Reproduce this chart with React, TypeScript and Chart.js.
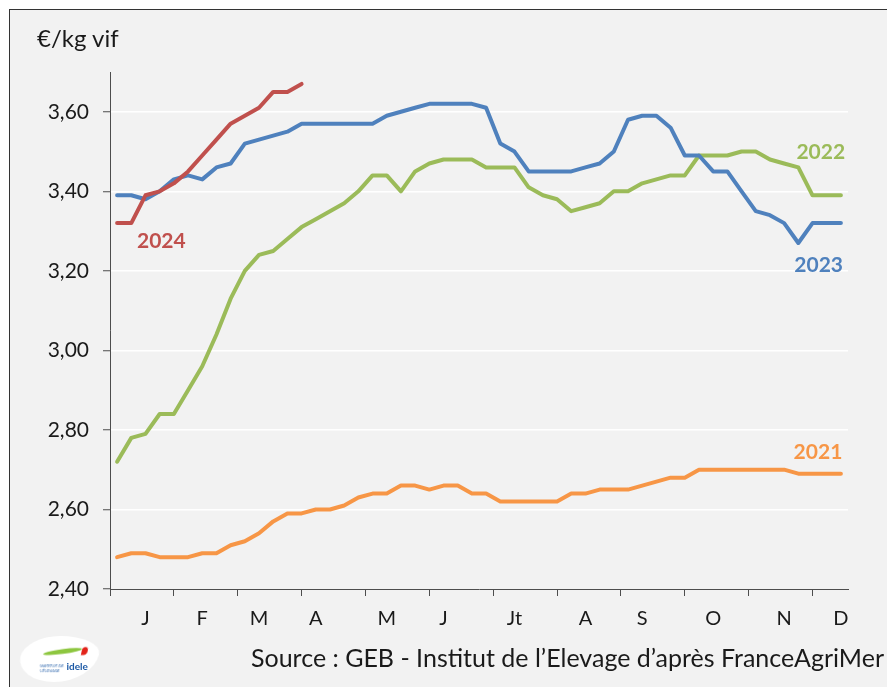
import React, { useEffect, useRef } from 'react';
import { Chart, registerables } from 'chart.js';

Chart.register(...registerables);

// ---- Data (weekly prices, €/kg vif) ----
const SERIES_NAMES = ['2024', '2023', '2022', '2021'];

const PRICES_2024 = [3.32, 3.32, 3.39, 3.40, 3.42, 3.45, 3.49, 3.53, 3.57, 3.59, 3.61, 3.65, 3.65, 3.67];

const PRICES_2023 = [
  3.39, 3.39, 3.38, 3.40, 3.43, 3.44, 3.43, 3.46, 3.47, 3.52, 3.53, 3.54, 3.55,
  3.57, 3.57, 3.57, 3.57, 3.57, 3.57, 3.59, 3.60, 3.61, 3.62, 3.62, 3.62, 3.62,
  3.61, 3.52, 3.50, 3.45, 3.45, 3.45, 3.45, 3.46, 3.47, 3.50, 3.58, 3.59, 3.59,
  3.56, 3.49, 3.49, 3.45, 3.45, 3.40, 3.35, 3.34, 3.32, 3.27, 3.32, 3.32, 3.32,
];

const PRICES_2022 = [
  2.72, 2.78, 2.79, 2.84, 2.84, 2.90, 2.96, 3.04, 3.13, 3.20, 3.24, 3.25, 3.28,
  3.31, 3.33, 3.35, 3.37, 3.40, 3.44, 3.44, 3.40, 3.45, 3.47, 3.48, 3.48, 3.48,
  3.46, 3.46, 3.46, 3.41, 3.39, 3.38, 3.35, 3.36, 3.37, 3.40, 3.40, 3.42, 3.43,
  3.44, 3.44, 3.49, 3.49, 3.49, 3.50, 3.50, 3.48, 3.47, 3.46, 3.39, 3.39, 3.39,
];

const PRICES_2021 = [
  2.48, 2.49, 2.49, 2.48, 2.48, 2.48, 2.49, 2.49, 2.51, 2.52, 2.54, 2.57, 2.59,
  2.59, 2.60, 2.60, 2.61, 2.63, 2.64, 2.64, 2.66, 2.66, 2.65, 2.66, 2.66, 2.64,
  2.64, 2.62, 2.62, 2.62, 2.62, 2.62, 2.64, 2.64, 2.65, 2.65, 2.65, 2.66, 2.67,
  2.68, 2.68, 2.70, 2.70, 2.70, 2.70, 2.70, 2.70, 2.70, 2.69, 2.69, 2.69, 2.69,
];

const MONTH_LABELS = ['J', 'F', 'M', 'A', 'M', 'J', 'Jt', 'A', 'S', 'O', 'N', 'D'];
const MONTH_LABEL_WEEKS = [2, 6, 10, 14, 19, 23, 28, 33, 37, 42, 47, 51];
const MONTH_TICK_MARKS = [-0.5, 4, 8.5, 13, 17.5, 22, 26.5, 31, 35.5, 40, 44.5, 49];
const Y_TICKS = [2.4, 2.6, 2.8, 3.0, 3.2, 3.4, 3.6];

// ---- Styles ----
const COLORS = ['#c0504d', '#4f81bd', '#9bbb59', '#f79646'];
const FONT = 'Lato, "Open Sans", sans-serif';
const AXIS_COLOR = '#4d4d4d';
const TEXT_COLOR = '#1a1a1a';

// label anchor positions (in axis units) for the year annotations
const LABEL_ANCHORS = [
  { x: 1.4, y: 3.275, align: 'left' },
  { x: 51.15, y: 3.213, align: 'right' },
  { x: 51.3, y: 3.499, align: 'right' },
  { x: 51.1, y: 2.745, align: 'right' },
];

const seriesLabelPlugin = {
  id: 'seriesLabels',
  afterDatasetsDraw(chart: any) {
    const { ctx, scales } = chart;
    const xs = scales.x;
    const ys = scales.y;
    ctx.save();
    ctx.font = `bold 21px ${FONT}`;
    ctx.textBaseline = 'middle';
    SERIES_NAMES.forEach((name, i) => {
      const a = LABEL_ANCHORS[i];
      ctx.fillStyle = COLORS[i];
      ctx.textAlign = a.align;
      ctx.fillText(name, xs.getPixelForValue(a.x), ys.getPixelForValue(a.y));
    });
    ctx.restore();
  },
};

export default function App() {
  const canvasRef = useRef<HTMLCanvasElement | null>(null);

  useEffect(() => {
    const canvas = canvasRef.current;
    if (!canvas) return;
    const allSeries = [PRICES_2024, PRICES_2023, PRICES_2022, PRICES_2021];
    const datasets = allSeries.map((values, i) => ({
      label: SERIES_NAMES[i],
      data: values.map((v, w) => ({ x: w, y: v })),
      borderColor: COLORS[i],
      backgroundColor: COLORS[i],
      borderWidth: 4,
      pointRadius: 0,
      pointHoverRadius: 0,
      tension: 0,
      borderCapStyle: 'round',
      borderJoinStyle: 'round',
      fill: false,
    }));

    const chart = new Chart(canvas, {
      type: 'line',
      data: { datasets } as any,
      plugins: [seriesLabelPlugin],
      options: {
        animation: false,
        responsive: false,
        events: [],
        layout: { padding: { left: 0, right: 39, top: 62, bottom: 0 } },
        plugins: {
          legend: { display: false },
          title: { display: false },
          tooltip: { enabled: false },
        },
        scales: {
          x: {
            type: 'linear',
            min: -0.5,
            max: 51.5,
            afterBuildTicks: (scale: any) => {
              const vals = [...MONTH_TICK_MARKS, ...MONTH_LABEL_WEEKS].sort((a, b) => a - b);
              scale.ticks = vals.map((value) => ({ value }));
            },
            afterFit: (scale: any) => {
              scale.height = 98;
            },
            grid: {
              drawOnChartArea: false,
              drawTicks: true,
              tickLength: 7,
              tickWidth: 1,
              tickColor: (ctx: any) =>
                ctx.tick && MONTH_TICK_MARKS.includes(ctx.tick.value) ? AXIS_COLOR : 'rgba(0,0,0,0)',
            },
            border: { display: true, color: AXIS_COLOR, width: 1 },
            ticks: {
              autoSkip: false,
              maxRotation: 0,
              minRotation: 0,
              padding: 11,
              color: TEXT_COLOR,
              font: { family: FONT, size: 20 },
              callback: (value: any) => {
                const idx = MONTH_LABEL_WEEKS.indexOf(Number(value));
                return idx >= 0 ? MONTH_LABELS[idx] : '';
              },
            },
          },
          y: {
            type: 'linear',
            min: 2.4,
            max: 3.7,
            afterBuildTicks: (scale: any) => {
              scale.ticks = Y_TICKS.map((value) => ({ value }));
            },
            afterFit: (scale: any) => {
              scale.width = 100;
            },
            grid: {
              color: (ctx: any) =>
                ctx.tick && ctx.tick.value <= 2.4001 ? 'rgba(0,0,0,0)' : '#ffffff',
              lineWidth: 1.5,
              drawTicks: true,
              tickLength: 7,
              tickWidth: 1,
              tickColor: AXIS_COLOR,
            },
            border: { display: true, color: AXIS_COLOR, width: 1 },
            ticks: {
              padding: 14,
              color: TEXT_COLOR,
              font: { family: FONT, size: 21 },
              callback: (value: any) => Number(value).toFixed(2).replace('.', ','),
            },
          },
        },
      } as any,
    });

    return () => chart.destroy();
  }, []);

  return (
    <div
      style={{
        position: 'absolute',
        left: 9,
        top: 9,
        width: 878,
        height: 678,
        boxSizing: 'border-box',
        borderLeft: '1px solid #333333',
        borderTop: '1px solid #333333',
        background: '#f2f2f2',
        overflow: 'hidden',
      }}
    >
      <canvas
        ref={canvasRef}
        width={877}
        height={677}
        style={{ position: 'absolute', left: 0, top: 0, display: 'block' }}
      />
      <div
        style={{
          position: 'absolute',
          left: 27,
          top: 15,
          fontFamily: FONT,
          fontSize: 24,
          lineHeight: '26px',
          color: TEXT_COLOR,
          whiteSpace: 'nowrap',
        }}
      >
        €/kg vif
      </div>
      <div
        style={{
          position: 'absolute',
          right: 3,
          top: 633,
          fontFamily: FONT,
          fontSize: 25,
          lineHeight: '28px',
          color: TEXT_COLOR,
          whiteSpace: 'nowrap',
        }}
      >
        Source : GEB - Institut de l’Elevage d’après FranceAgriMer
      </div>
      <div
        style={{
          position: 'absolute',
          left: 10,
          top: 626,
          width: 78,
          height: 46,
          background: '#ffffff',
          borderRadius: '45% 55% 50% 50% / 45% 40% 60% 55%',
          transform: 'skewX(-12deg)',
        }}
      >
        <div
          style={{
            position: 'absolute',
            left: 22,
            top: 13,
            width: 38,
            height: 5,
            background: '#8dc63f',
            borderRadius: '50%',
            transform: 'rotate(-8deg) skewX(12deg)',
          }}
        />
        <div
          style={{
            position: 'absolute',
            left: 60,
            top: 11,
            width: 6,
            height: 8,
            background: '#e2231a',
            borderRadius: '50% 50% 50% 0',
          }}
        />
        <div
          style={{
            position: 'absolute',
            left: 22,
            top: 27,
            fontFamily: FONT,
            fontSize: 4,
            lineHeight: '5px',
            color: '#1d5aa6',
            transform: 'skewX(12deg)',
            whiteSpace: 'nowrap',
          }}
        >
          INSTITUT DE
          <br />
          L’ÉLEVAGE
        </div>
        <div
          style={{
            position: 'absolute',
            left: 48,
            top: 25,
            fontFamily: FONT,
            fontSize: 10,
            fontWeight: 700,
            lineHeight: '10px',
            color: '#1d5aa6',
            transform: 'skewX(12deg)',
          }}
        >
          idele
        </div>
      </div>
    </div>
  );
}
